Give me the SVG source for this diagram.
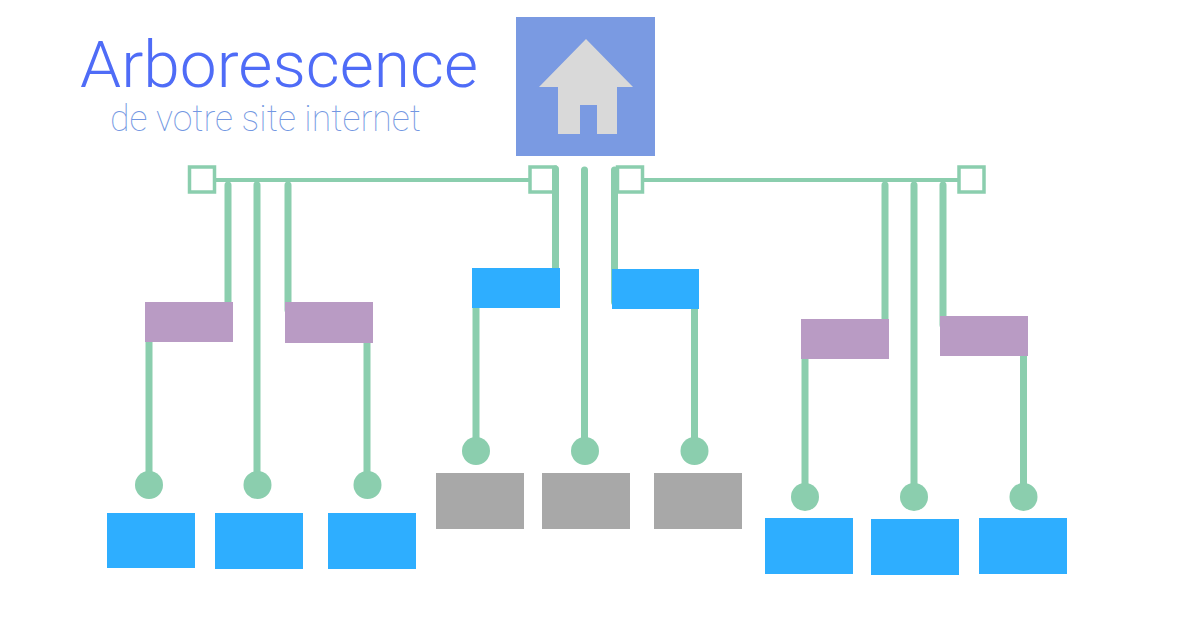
<svg xmlns="http://www.w3.org/2000/svg" width="1200" height="628" viewBox="0 0 1200 628">
<style>
.c{stroke:#8bceae;fill:none}
.v{stroke-width:7;stroke-linecap:round}
.h{stroke-width:4}
.sq{fill:#fff;stroke:#8bceae;stroke-width:3.5}
.dot{fill:#8bceae}
.b{fill:#2eaeff}
.p{fill:#b99bc4}
.g{fill:#a8a8a8}
.t{font-family:"Roboto","Liberation Sans",sans-serif}
</style>
<rect width="1200" height="628" fill="#fff"/>
<g id="title">
<text class="t" x="80" y="87" font-size="65" font-weight="300" fill="#4f6cf7" textLength="398" lengthAdjust="spacingAndGlyphs">Arborescence</text>
<text class="t" x="110" y="131" font-size="37" font-weight="100" fill="#7397e2" textLength="311" lengthAdjust="spacingAndGlyphs">de votre site internet</text>
</g>
<g id="home">
<rect x="516" y="17" width="139" height="139" fill="#7a9ae2"/>
<path d="M586 39L633 87H617V134H597V105H580V134H558V87H539Z" fill="#d9d9d9"/>
</g>
<g id="sq-1"><rect class="sq" x="189.500" y="167" width="25" height="25"/></g>
<g id="sq-2"><rect class="sq" x="530" y="167" width="25" height="25"/></g>
<g id="sq-3"><rect class="sq" x="617.500" y="167" width="25" height="25"/></g>
<g id="sq-4"><rect class="sq" x="959" y="167" width="25" height="25"/></g>
<g id="connectors">
<path class="c h" d="M215 180H530M643 180H958"/>
<path class="c v" d="M228 185V310M257 185V480M288 185V310M149 340V485M367 340V485"/>
<path class="c v" d="M555.500 169V275M584.500 170V455M614.500 170V302M476 300V452M694.500 305V452"/>
<path class="c v" d="M885 185V325M914 185V497M943 185V325M805 355V497M1023.500 352V497"/>
</g>
<g id="p-1"><rect class="p" x="145" y="302" width="88" height="40"/></g>
<g id="p-2"><rect class="p" x="285" y="302" width="88" height="41"/></g>
<g id="p-3"><rect class="p" x="801" y="319" width="88" height="40"/></g>
<g id="p-4"><rect class="p" x="940" y="316" width="88" height="40"/></g>
<g id="b-top-1"><rect class="b" x="472" y="268" width="88" height="40"/></g>
<g id="b-top-2"><rect class="b" x="612" y="269" width="87" height="40"/></g>
<g id="dot-1"><circle class="dot" cx="149" cy="485" r="14"/></g>
<g id="dot-2"><circle class="dot" cx="257.500" cy="485" r="14"/></g>
<g id="dot-3"><circle class="dot" cx="367.500" cy="485" r="14"/></g>
<g id="dot-4"><circle class="dot" cx="476" cy="451" r="14"/></g>
<g id="dot-5"><circle class="dot" cx="585" cy="451" r="14"/></g>
<g id="dot-6"><circle class="dot" cx="694.500" cy="451" r="14"/></g>
<g id="dot-7"><circle class="dot" cx="805" cy="497" r="14"/></g>
<g id="dot-8"><circle class="dot" cx="914" cy="497" r="14"/></g>
<g id="dot-9"><circle class="dot" cx="1023.500" cy="497" r="14"/></g>
<g id="n-1"><rect class="b" x="107" y="513" width="88" height="55"/></g>
<g id="n-2"><rect class="b" x="215" y="513" width="88" height="56"/></g>
<g id="n-3"><rect class="b" x="328" y="513" width="88" height="56"/></g>
<g id="n-4"><rect class="g" x="436" y="473" width="88" height="56"/></g>
<g id="n-5"><rect class="g" x="542" y="473" width="88" height="56"/></g>
<g id="n-6"><rect class="g" x="654" y="473" width="88" height="56"/></g>
<g id="n-7"><rect class="b" x="765" y="518" width="88" height="56"/></g>
<g id="n-8"><rect class="b" x="871" y="519" width="88" height="56"/></g>
<g id="n-9"><rect class="b" x="979" y="518" width="88" height="56"/></g>
</svg>
